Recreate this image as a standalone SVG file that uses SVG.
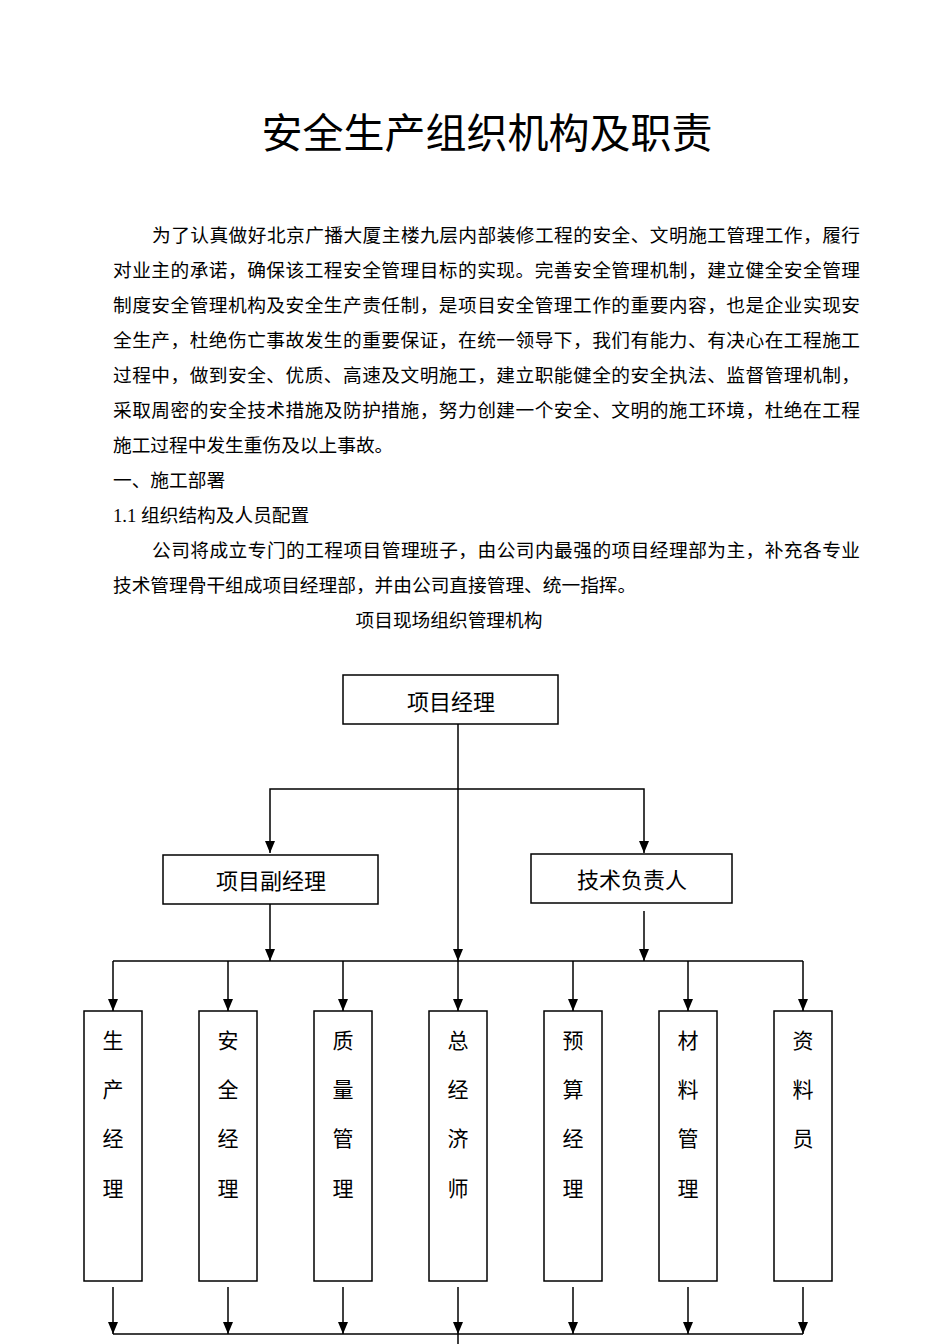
<svg xmlns="http://www.w3.org/2000/svg" width="950" height="1344" viewBox="0 0 950 1344">
<style>
.t{font-family:"Liberation Serif","Noto Sans CJK SC",serif;fill:#000;}
.p{font-size:18.7px;}
.n{font-size:22px;text-anchor:middle;}
.v{font-size:21px;text-anchor:middle;}
.box{fill:#fff;stroke:#000;stroke-width:1.5;}
.c{fill:none;stroke:#000;stroke-width:1.5;}
.a{marker-end:url(#arr);}
</style>
<defs>
<marker id="arr" markerUnits="userSpaceOnUse" markerWidth="12" markerHeight="10" refX="12" refY="5" orient="auto" viewBox="0 0 12 10">
<path d="M0,0 L12,5 L0,10 z" fill="#000"/>
</marker>
</defs>
<rect width="950" height="1344" fill="#fff"/>

<text class="t" x="487" y="148" font-size="41" text-anchor="middle">安全生产组织机构及职责</text>

<g id="intro">
<text class="t p" x="152" y="242" textLength="708" lengthAdjust="spacing">为了认真做好北京广播大厦主楼九层内部装修工程的安全、文明施工管理工作，履行</text>
<text class="t p" x="113" y="277" textLength="747" lengthAdjust="spacing">对业主的承诺，确保该工程安全管理目标的实现。完善安全管理机制，建立健全安全管理</text>
<text class="t p" x="113" y="312" textLength="747" lengthAdjust="spacing">制度安全管理机构及安全生产责任制，是项目安全管理工作的重要内容，也是企业实现安</text>
<text class="t p" x="113" y="347" textLength="747" lengthAdjust="spacing">全生产，杜绝伤亡事故发生的重要保证，在统一领导下，我们有能力、有决心在工程施工</text>
<text class="t p" x="113" y="382" textLength="747" lengthAdjust="spacing">过程中，做到安全、优质、高速及文明施工，建立职能健全的安全执法、监督管理机制，</text>
<text class="t p" x="113" y="417" textLength="747" lengthAdjust="spacing">采取周密的安全技术措施及防护措施，努力创建一个安全、文明的施工环境，杜绝在工程</text>
<text class="t p" x="113" y="452">施工过程中发生重伤及以上事故。</text>
<text class="t p" x="113" y="487">一、施工部署</text>
<text class="t p" x="113" y="522">1.1 组织结构及人员配置</text>
<text class="t p" x="152" y="557" textLength="708" lengthAdjust="spacing">公司将成立专门的工程项目管理班子，由公司内最强的项目经理部为主，补充各专业</text>
<text class="t p" x="113" y="592">技术管理骨干组成项目经理部，并由公司直接管理、统一指挥。</text>
<text class="t p" x="449" y="627" text-anchor="middle">项目现场组织管理机构</text>
</g>

<g id="connectors">
<path class="c a" d="M458,724 V961"/>
<path class="c a" d="M458,789 H270 V853"/>
<path class="c a" d="M458,789 H644 V853"/>
<path class="c a" d="M270,904 V961"/>
<path class="c a" d="M644,911 V961"/>
<path class="c" d="M113,961 H803"/>
<path class="c a" d="M113,961 V1011"/>
<path class="c a" d="M228,961 V1011"/>
<path class="c a" d="M343,961 V1011"/>
<path class="c a" d="M458,961 V1011"/>
<path class="c a" d="M573,961 V1011"/>
<path class="c a" d="M688,961 V1011"/>
<path class="c a" d="M803,961 V1011"/>
<path class="c a" d="M113,1287 V1334"/>
<path class="c a" d="M228,1287 V1334"/>
<path class="c a" d="M343,1287 V1334"/>
<path class="c a" d="M458,1287 V1334"/>
<path class="c a" d="M573,1287 V1334"/>
<path class="c a" d="M688,1287 V1334"/>
<path class="c a" d="M803,1287 V1334"/>
<path class="c" d="M113,1334 H803"/>
<path class="c" d="M458,1334 V1344"/>
</g>

<g id="pm">
<rect class="box" x="343" y="675" width="215" height="49"/>
<text class="t n" x="451" y="710">项目经理</text>
</g>
<g id="deputy">
<rect class="box" x="163" y="855" width="215" height="49"/>
<text class="t n" x="271" y="889">项目副经理</text>
</g>
<g id="tech">
<rect class="box" x="531" y="854" width="201" height="49"/>
<text class="t n" x="632" y="888">技术负责人</text>
</g>

<g id="n1"><rect class="box" x="84" y="1011" width="58" height="270"/>
<text class="t v" x="113" y="1048">生</text><text class="t v" x="113" y="1097">产</text><text class="t v" x="113" y="1146">经</text><text class="t v" x="113" y="1196">理</text></g>
<g id="n2"><rect class="box" x="199" y="1011" width="58" height="270"/>
<text class="t v" x="228" y="1048">安</text><text class="t v" x="228" y="1097">全</text><text class="t v" x="228" y="1146">经</text><text class="t v" x="228" y="1196">理</text></g>
<g id="n3"><rect class="box" x="314" y="1011" width="58" height="270"/>
<text class="t v" x="343" y="1048">质</text><text class="t v" x="343" y="1097">量</text><text class="t v" x="343" y="1146">管</text><text class="t v" x="343" y="1196">理</text></g>
<g id="n4"><rect class="box" x="429" y="1011" width="58" height="270"/>
<text class="t v" x="458" y="1048">总</text><text class="t v" x="458" y="1097">经</text><text class="t v" x="458" y="1146">济</text><text class="t v" x="458" y="1196">师</text></g>
<g id="n5"><rect class="box" x="544" y="1011" width="58" height="270"/>
<text class="t v" x="573" y="1048">预</text><text class="t v" x="573" y="1097">算</text><text class="t v" x="573" y="1146">经</text><text class="t v" x="573" y="1196">理</text></g>
<g id="n6"><rect class="box" x="659" y="1011" width="58" height="270"/>
<text class="t v" x="688" y="1048">材</text><text class="t v" x="688" y="1097">料</text><text class="t v" x="688" y="1146">管</text><text class="t v" x="688" y="1196">理</text></g>
<g id="n7"><rect class="box" x="774" y="1011" width="58" height="270"/>
<text class="t v" x="803" y="1048">资</text><text class="t v" x="803" y="1097">料</text><text class="t v" x="803" y="1146">员</text></g>
</svg>
